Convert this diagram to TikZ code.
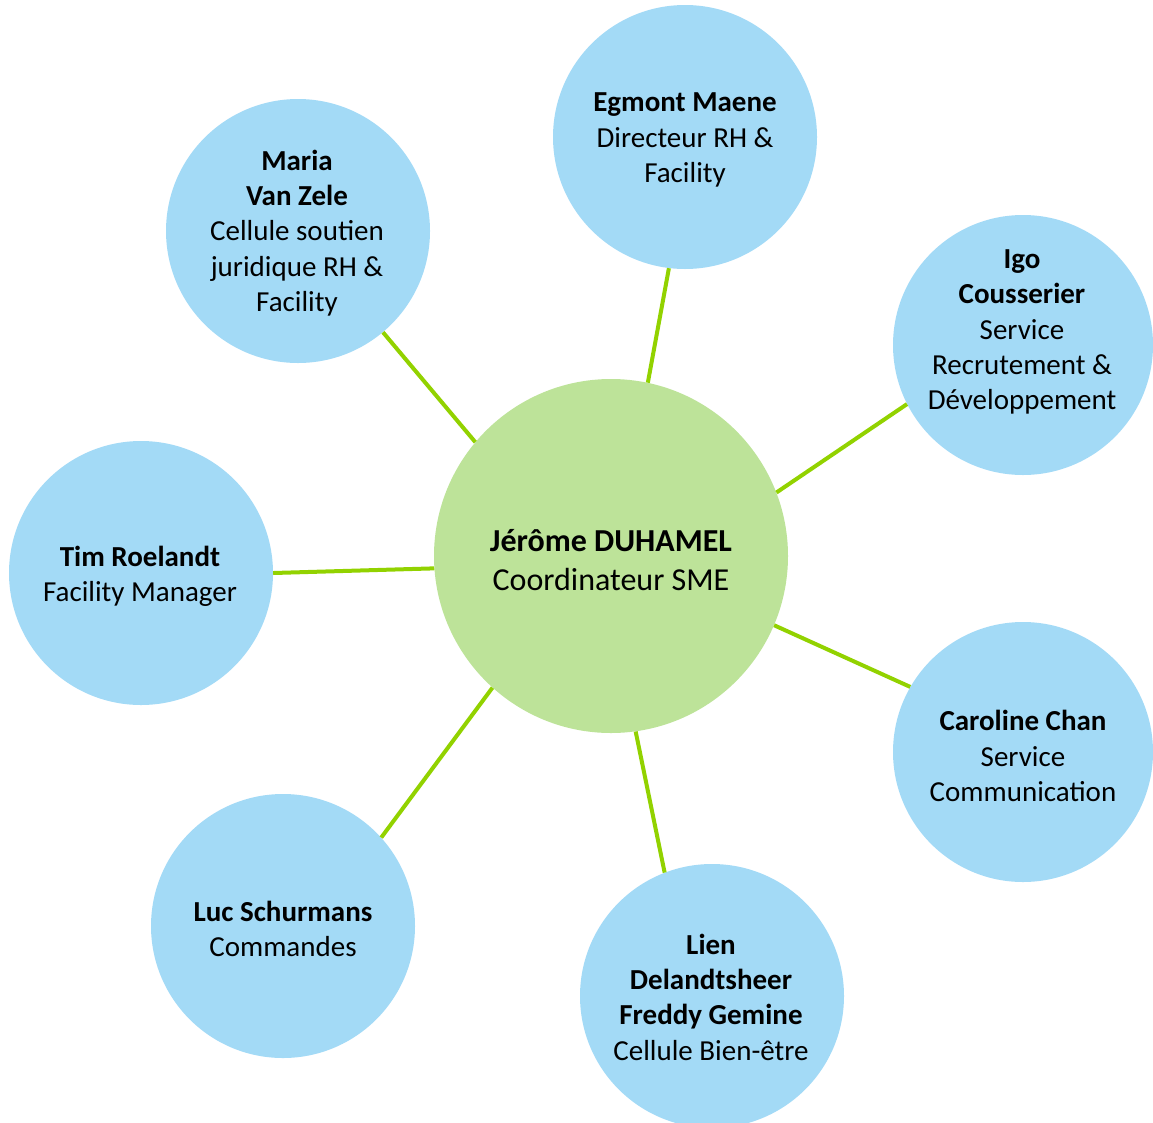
\documentclass[tikz,border=0pt]{standalone}
\usepackage{fontspec}
\setmainfont{Carlito}
\definecolor{bluefill}{RGB}{163,218,246}
\definecolor{greenfill}{RGB}{189,227,153}
\definecolor{linkgreen}{RGB}{146,210,0}
\begin{document}
\begin{tikzpicture}[x=1pt,y=-1pt,
  person/.style={circle,fill=bluefill,draw=none,minimum size=264pt,inner sep=0pt},
  chief/.style={circle,fill=greenfill,draw=none,minimum size=354pt,inner sep=0pt},
  txt/.style={align=center,font=\fontsize{29}{35.3}\selectfont,inner sep=0pt},
  bigtxt/.style={align=center,font=\fontsize{32}{39.5}\selectfont,inner sep=0pt},
  link/.style={draw=linkgreen,line width=4pt}]
\useasboundingbox (0,0) rectangle (1153,1122);
% circles
\node[chief] (c) at (611,556) {};
\node[person] (egmont) at (685,137) {};
\node[person] (maria) at (298,231) {};
\node[person,minimum size=260pt] (igo) at (1023,345) {};
\node[person] (tim) at (141,573) {};
\node[person,minimum size=260pt] (caroline) at (1023,752) {};
\node[person] (luc) at (283,926) {};
\node[person] (lien) at (712,996) {};
% connectors
\draw[link] (c.78.4) -- (egmont.263.3);
\draw[link] (c.140.3) -- (maria.-50);
\draw[link] (c.21.3) -- (igo.207.9);
\draw[link] (c.184.5) -- (tim.0.9);
\draw[link] (c.-23) -- (caroline.150.3);
\draw[link] (c.228.7) -- (luc.42.5);
\draw[link] (c.278.7) -- (lien.111.8);
% texts
\node[bigtxt] (tc) at (611,560) {\textbf{Jérôme DUHAMEL}\\Coordinateur SME};
\node[txt] (tegmont) at (685,140) {\textbf{Egmont Maene}\\Directeur RH \&\\Facility};
\node[txt] (tmaria) at (297,233) {\textbf{Maria}\\\textbf{Van Zele}\\Cellule soutien\\juridique RH \&\\Facility};
\node[txt] (tigo) at (1022,332) {\textbf{Igo}\\\textbf{Cousserier}\\Service\\Recrutement \&\\Développement};
\node[txt] (ttim) at (140,576) {\textbf{Tim Roelandt}\\Facility Manager};
\node[txt] (tcaroline) at (1023,756) {\textbf{Caroline Chan}\\Service\\Communication};
\node[txt] (tluc) at (283,929) {\textbf{Luc Schurmans}\\Commandes};
\node[txt] (tlien) at (711,997) {\textbf{Lien}\\\textbf{Delandtsheer}\\\textbf{Freddy Gemine}\\Cellule Bien-être};
\end{tikzpicture}
\end{document}
